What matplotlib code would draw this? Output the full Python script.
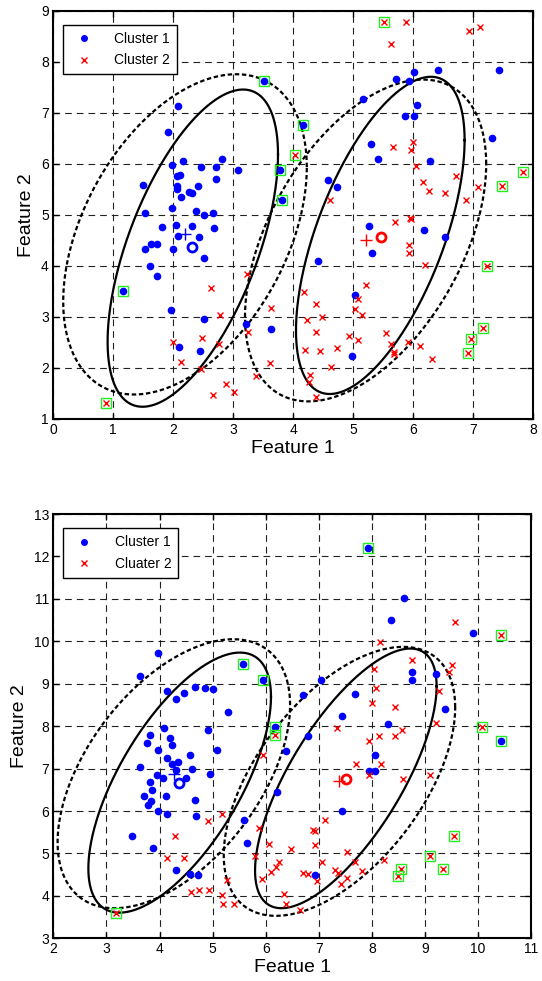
import numpy as np
import matplotlib
matplotlib.use("Agg")
import matplotlib.pyplot as plt
from matplotlib.lines import Line2D

plt.rcParams["font.family"] = ["Liberation Sans", "DejaVu Sans"]

# ---- top panel data ----
top_c1 = [(2.08, 7.13), (1.92, 6.63), (1.98, 5.98), (2.17, 6.05), (2.82, 6.09), (3.08, 5.88),
          (2.47, 5.94), (2.71, 5.94), (2.71, 5.71), (2.06, 5.77), (2.12, 5.79), (2.06, 5.57),
          (2.06, 5.51), (1.50, 5.59), (2.13, 5.35), (2.26, 5.46), (2.31, 5.44), (2.42, 5.57),
          (1.54, 5.03), (1.99, 5.14), (2.38, 5.07), (2.52, 4.99), (2.67, 5.03), (2.05, 4.81),
          (1.82, 4.76), (2.32, 4.79), (2.08, 4.59), (2.43, 4.57), (2.69, 4.75), (1.64, 4.44),
          (1.74, 4.44), (1.53, 4.33), (2.00, 4.33), (2.52, 4.16), (1.61, 3.99), (1.74, 3.81),
          (1.96, 3.14), (2.51, 2.97), (2.10, 2.41), (2.45, 2.34), (3.21, 2.86), (3.64, 2.77),
          (6.01, 7.80), (6.41, 7.85), (7.44, 7.85), (5.72, 7.67), (5.93, 7.63), (5.16, 7.28),
          (6.06, 7.15), (5.86, 6.94), (6.02, 6.94), (7.32, 6.50), (5.30, 6.39), (5.42, 6.09),
          (6.28, 6.05), (4.58, 5.68), (4.73, 5.55), (5.27, 4.79), (5.32, 4.25), (6.19, 4.70),
          (6.54, 4.57), (4.41, 4.09), (5.03, 3.43), (4.98, 2.24)]
top_c1_out = [(3.51, 7.63), (4.17, 6.76), (3.79, 5.88), (3.82, 5.29), (1.17, 3.51)]
top_c2 = [(5.89, 8.78), (5.63, 8.35), (6.93, 8.61), (7.12, 8.69), (5.66, 6.34), (6.00, 6.44),
          (5.96, 6.27), (6.05, 5.96), (6.72, 5.77), (6.17, 5.64), (6.26, 5.48), (6.54, 5.43),
          (7.08, 5.55), (4.62, 5.29), (6.88, 5.29), (5.95, 4.94), (5.70, 4.86), (5.97, 4.92),
          (5.93, 4.41), (5.94, 4.25), (6.20, 4.01), (4.18, 3.49), (5.22, 3.62), (5.08, 3.36),
          (4.38, 3.25), (5.03, 3.15), (5.15, 3.03), (4.24, 2.95), (4.48, 2.99), (3.64, 3.18),
          (4.38, 2.71), (4.94, 2.62), (5.08, 2.54), (5.55, 2.69), (5.64, 2.47), (5.68, 2.31),
          (5.68, 2.27), (5.92, 2.50), (6.12, 2.43), (6.32, 2.17), (4.20, 2.35), (4.45, 2.34),
          (4.73, 2.39), (4.64, 2.01), (4.29, 1.87), (4.27, 1.73), (4.39, 1.43), (3.61, 2.10),
          (3.39, 1.85), (3.25, 2.71), (3.24, 3.85), (2.63, 3.56), (2.79, 3.04), (2.00, 2.50),
          (2.49, 2.59), (2.76, 2.47), (2.14, 2.12), (2.47, 1.98), (2.88, 1.68), (2.66, 1.48),
          (3.02, 1.52)]
top_c2_out = [(5.52, 8.78), (4.04, 6.17), (7.83, 5.84), (7.49, 5.57), (7.24, 3.99),
              (7.16, 2.78), (6.96, 2.57), (6.91, 2.30), (0.88, 1.31)]
top_plus = [(2.20, 4.62), (5.21, 4.50)]
top_circ = [(2.31, 4.37), (5.47, 4.57)]
# ellipses: cx, cy, half-width, half-height, correlation
top_solid = [(2.33, 4.35, 1.42, 3.11, 0.59), (5.455, 4.60, 1.405, 3.11, 0.60)]
top_dashed = [(2.20, 4.62, 2.03, 3.14, 0.42), (5.21, 4.50, 2.01, 3.155, 0.475)]

# ---- bottom panel data ----
bot_c1 = [(3.98, 9.73), (3.64, 9.19), (4.14, 8.84), (4.46, 8.79), (4.31, 8.64), (4.66, 8.92),
          (4.86, 8.90), (5.01, 8.88), (5.29, 8.33), (4.08, 7.96), (3.82, 7.79), (4.20, 7.71),
          (4.91, 7.92), (3.76, 7.60), (4.24, 7.55), (3.98, 7.45), (5.09, 7.45), (4.58, 7.32),
          (4.14, 7.24), (4.34, 7.15), (4.24, 7.11), (3.64, 7.03), (4.62, 6.98), (4.95, 6.88),
          (3.96, 6.85), (4.06, 6.77), (4.32, 6.96), (4.49, 6.79), (3.82, 6.69), (3.86, 6.49),
          (3.70, 6.35), (4.12, 6.35), (4.66, 6.25), (3.84, 6.23), (3.78, 6.15), (3.98, 6.00),
          (4.14, 5.94), (4.69, 5.89), (3.48, 5.40), (3.88, 5.12), (4.32, 4.62), (4.58, 4.52),
          (4.73, 4.49), (5.59, 5.79), (5.65, 5.25), (6.22, 6.46),
          (8.60, 11.02), (8.37, 10.51), (9.91, 10.19), (8.75, 9.28), (9.20, 9.24), (8.75, 9.10),
          (7.04, 9.10), (6.71, 8.74), (7.69, 8.77), (9.37, 8.40), (7.43, 8.25), (8.31, 8.05),
          (6.79, 7.78), (6.38, 7.42), (8.05, 7.33), (7.94, 6.94), (8.05, 6.94), (7.43, 6.00),
          (6.92, 4.49)]
bot_c1_out = [(7.92, 12.21), (5.57, 9.46), (5.95, 9.08), (6.18, 7.97), (10.43, 7.66)]
bot_c2 = [(9.57, 10.45), (8.15, 9.98), (8.76, 9.55), (9.51, 9.44), (9.45, 9.27), (8.04, 9.34),
          (8.08, 8.90), (8.00, 8.54), (8.44, 8.46), (9.27, 8.83), (7.34, 7.95), (8.56, 7.90),
          (8.14, 7.77), (8.44, 7.76), (9.20, 8.07), (7.94, 7.65), (7.70, 7.12), (8.18, 7.11),
          (7.94, 6.86), (9.10, 6.86), (8.59, 6.75), (7.12, 5.80), (6.90, 5.55), (6.92, 5.53),
          (6.93, 5.21), (6.48, 5.10), (7.53, 5.04), (7.07, 4.79), (7.69, 4.81), (8.22, 4.85),
          (6.25, 4.79), (6.19, 4.69), (6.10, 4.56), (6.71, 4.53), (6.79, 4.51), (7.31, 4.60),
          (7.37, 4.55), (7.82, 4.58), (7.54, 4.43), (6.96, 4.34), (7.42, 4.28), (6.35, 4.04),
          (6.39, 3.81), (6.65, 3.67),
          (4.29, 5.41), (4.15, 4.89), (4.46, 4.89), (4.92, 5.77), (5.18, 5.92), (4.59, 4.09),
          (4.75, 4.14), (4.93, 4.14), (5.18, 4.02), (5.20, 3.81), (5.40, 3.81), (5.27, 4.37),
          (5.95, 7.33), (5.87, 5.60), (5.79, 4.94), (5.94, 4.39), (6.07, 5.23)]
bot_c2_out = [(6.18, 7.79), (10.44, 10.15), (10.08, 7.98), (9.54, 5.41), (9.09, 4.94),
              (9.34, 4.63), (8.54, 4.63), (8.49, 4.48), (3.18, 3.59)]
bot_plus = [(4.28, 6.87), (7.38, 6.71)]
bot_circ = [(4.37, 6.66), (7.52, 6.76)]
bot_solid = [(4.38, 6.67, 1.72, 3.065, 0.66), (7.51, 6.77, 1.71, 3.06, 0.71)]
bot_dashed = [(4.27, 6.88, 2.19, 3.17, 0.51), (7.39, 6.70, 2.18, 3.17, 0.55)]

panels = [
    dict(c1=top_c1, c1o=top_c1_out, c2=top_c2, c2o=top_c2_out, plus=top_plus, circ=top_circ,
         solid=top_solid, dashed=top_dashed, xlim=(0, 8), ylim=(1, 9),
         xlabel="Feature 1", ylabel="Feature 2", legend=["Cluster 1", "Cluster 2"]),
    dict(c1=bot_c1, c1o=bot_c1_out, c2=bot_c2, c2o=bot_c2_out, plus=bot_plus, circ=bot_circ,
         solid=bot_solid, dashed=bot_dashed, xlim=(2, 11), ylim=(3, 13),
         xlabel="Featue 1", ylabel="Feature 2", legend=["Cluster 1", "Cluater 2"]),
]

BLUE = "#0000ff"
RED = "#ff0000"
GREEN = "#22ee22"


def ellipse_xy(cx, cy, sx, sy, rho):
    t = np.linspace(0, 2 * np.pi, 400)
    x = cx + sx * np.cos(t)
    y = cy + sy * (rho * np.cos(t) + np.sqrt(1 - rho ** 2) * np.sin(t))
    return x, y


fig = plt.figure(figsize=(5.42, 9.81), dpi=100)
axes = [fig.add_axes([0.0978, 0.5729, 0.8856, 0.4159]),
        fig.add_axes([0.0984, 0.0435, 0.8815, 0.4325])]

for ax, p in zip(axes, panels):
    ax.set_xlim(*p["xlim"])
    ax.set_ylim(*p["ylim"])
    ax.set_xticks(np.arange(p["xlim"][0], p["xlim"][1] + 1))
    ax.set_yticks(np.arange(p["ylim"][0], p["ylim"][1] + 1))
    ax.grid(True, color="#222222", linestyle=(0, (6, 4.5)), linewidth=0.8)
    ax.set_axisbelow(True)
    ax.tick_params(direction="in", top=True, right=True, length=4, width=1, labelsize=10,
                   pad=3)
    for s in ax.spines.values():
        s.set_linewidth(1.5)

    for e in p["dashed"]:
        ex, ey = ellipse_xy(*e)
        ax.plot(ex, ey, color="black", lw=1.6, linestyle=(0, (2.0, 1.2)), zorder=3)
    for e in p["solid"]:
        ex, ey = ellipse_xy(*e)
        ax.plot(ex, ey, color="black", lw=1.6, zorder=3)

    c1 = np.array(p["c1"] + p["c1o"])
    c2 = np.array(p["c2"] + p["c2o"])
    ax.plot(c1[:, 0], c1[:, 1], "o", color=BLUE, ms=4.5, mec=BLUE, zorder=4)
    ax.plot(c2[:, 0], c2[:, 1], "x", color=RED, ms=4.2, mew=1.0, zorder=4)
    out = np.array(p["c1o"] + p["c2o"])
    ax.plot(out[:, 0], out[:, 1], "s", mfc="none", mec=GREEN, ms=6.5, mew=1.0, zorder=5)

    cols = [BLUE, RED]
    for (px, py), col in zip(p["plus"], cols):
        ax.plot(px, py, "+", color=col, ms=8, mew=1.0, zorder=6)
    for (cx, cy), col in zip(p["circ"], cols):
        ax.plot(cx, cy, "o", mfc="none", mec=col, ms=6.5, mew=2.0, zorder=6)

    ax.set_xlabel(p["xlabel"], fontsize=14, labelpad=2)
    ax.set_ylabel(p["ylabel"], fontsize=14, labelpad=4)

    handles = [Line2D([], [], marker="o", color=BLUE, ls="none", ms=4),
               Line2D([], [], marker="x", color=RED, ls="none", ms=4, mew=1.0)]
    ax.legend(handles, p["legend"], loc="upper left", bbox_to_anchor=(0.021, 0.966),
              borderaxespad=0, fancybox=False, edgecolor="black", framealpha=1,
              fontsize=10, handlelength=2.0, handletextpad=1.2, borderpad=0.5,
              labelspacing=0.55).get_frame().set_linewidth(1.0)

fig.savefig("out.png", dpi=100)
